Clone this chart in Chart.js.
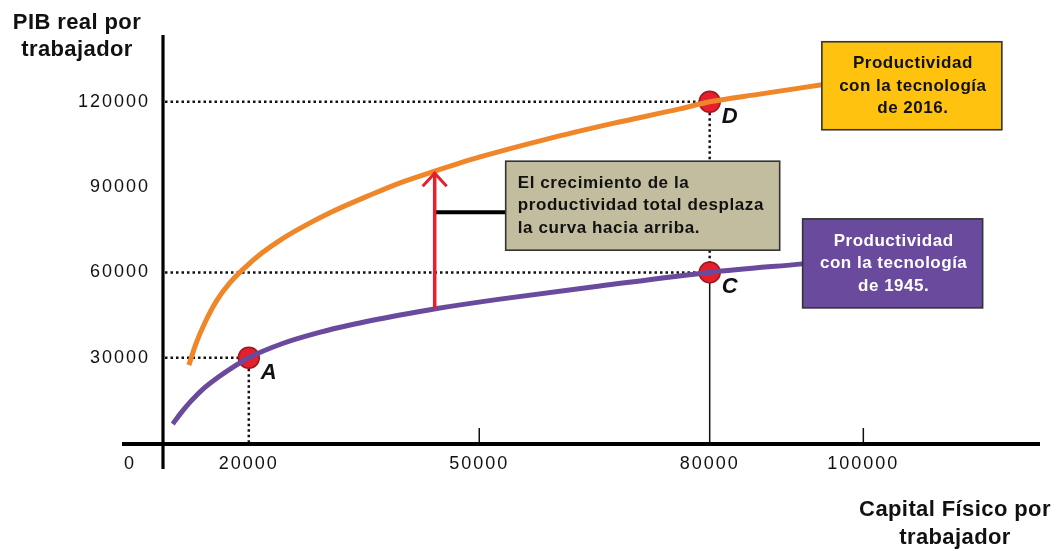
<!DOCTYPE html>
<html>
<head>
<meta charset="utf-8">
<script src="https://cdn.jsdelivr.net/npm/chart.js@4.4.1/dist/chart.umd.min.js"></script>
<style>
  html, body { margin: 0; padding: 0; background: #ffffff; }
  #wrap { width: 1057px; height: 551px; position: relative; }
</style>
</head>
<body>
<div id="wrap"><canvas id="chart"></canvas></div>
<script>
// Capital per worker (x) and real GDP per worker (y)
const xTickValues = [20000, 50000, 80000, 100000];
const yTickValues = [30000, 60000, 90000, 120000];

// Production function with 2016 technology
const tech2016K = [12200, 13100, 14300, 15800, 17500, 19500, 21700, 24000, 26600, 30500, 35800, 39700, 44200, 50100, 58800, 67400, 76100, 80000, 86500, 94600];
const tech2016Y = [27400, 34800, 42400, 50000, 56200, 61700, 66800, 71200, 75400, 80900, 87200, 91500, 95600, 100600, 106900, 112400, 117500, 120000, 122700, 126000];

// Production function with 1945 technology
const tech1945K = [10100, 11200, 12500, 14000, 16000, 17900, 20000, 24400, 29200, 33200, 39700, 44500, 52700, 65700, 80000, 92100];
const tech1945Y = [6700, 10700, 14800, 18900, 23100, 26600, 30000, 35000, 38900, 41500, 45000, 47300, 50600, 55200, 60000, 63000];

// Marked points
const pointNames = ['A', 'C', 'D'];
const pointK = [20000, 80000, 80000];
const pointY = [30000, 60000, 120000];

// Upward shift arrow between the two curves
const shiftK = 44200;
const shiftFrom = 47300;
const shiftTo = 95600;

// Text
const yTitle = ['PIB real por', 'trabajador'];
const xTitle = ['Capital Físico por', 'trabajador'];
const label2016 = ['Productividad', 'con la tecnología', 'de 2016.'];
const label1945 = ['Productividad', 'con la tecnología', 'de 1945.'];
const shiftNote = ['El crecimiento de la', 'productividad total desplaza', 'la curva hacia arriba.'];

const X_MIN = 8700, X_MAX = 123000, Y_MAX = 143500;
const ORANGE = '#ef8629';
const PURPLE = '#6a4a9c';
const RED = '#e51f2b';
const BASE_FONT = '"Liberation Sans", Arial, sans-serif';

function toXY(xs, ys) { return xs.map((v, i) => ({ x: v, y: ys[i] })); }

function dotted(ctx, x1, y1, x2, y2) {
  ctx.save();
  ctx.strokeStyle = '#111';
  ctx.lineWidth = 2.5;
  ctx.setLineDash([2.5, 3]);
  ctx.beginPath(); ctx.moveTo(x1, y1); ctx.lineTo(x2, y2); ctx.stroke();
  ctx.restore();
}

function textLines(ctx, lines, x, yFirst, lh, align, color, font, spacing) {
  ctx.save();
  ctx.fillStyle = color;
  ctx.font = font;
  ctx.letterSpacing = spacing;
  ctx.textAlign = align;
  ctx.textBaseline = 'middle';
  lines.forEach((t, i) => ctx.fillText(t, x, yFirst + i * lh));
  ctx.restore();
}

function box(ctx, x, y, w, h, fill) {
  ctx.save();
  ctx.fillStyle = fill;
  ctx.fillRect(x, y, w, h);
  ctx.strokeStyle = '#333';
  ctx.lineWidth = 1.6;
  ctx.strokeRect(x, y, w, h);
  ctx.restore();
}

const extras = {
  id: 'extras',
  beforeDraw(chart) {
    // slightly open digit spacing for the tick labels
    chart.ctx.letterSpacing = '2px';
  },
  beforeDatasetsDraw(chart) {
    const { ctx, scales: { x, y } } = chart;
    ctx.save();
    ctx.letterSpacing = '0px';
    const ax = x.getPixelForValue(X_MIN) + 1;
    const ay = y.getPixelForValue(0) + 1;

    // guide lines from the axes to each marked point
    pointK.forEach((k, i) => {
      dotted(ctx, ax + 2, y.getPixelForValue(pointY[i]), x.getPixelForValue(k), y.getPixelForValue(pointY[i]));
    });
    const pA = 0, pC = 1, pD = 2;
    dotted(ctx, x.getPixelForValue(pointK[pA]), y.getPixelForValue(pointY[pA]), x.getPixelForValue(pointK[pA]), ay - 2);
    dotted(ctx, x.getPixelForValue(pointK[pD]), y.getPixelForValue(pointY[pD]), x.getPixelForValue(pointK[pD]), y.getPixelForValue(pointY[pC]));
    ctx.strokeStyle = '#111';
    ctx.lineWidth = 1.5;
    ctx.beginPath();
    ctx.moveTo(x.getPixelForValue(pointK[pC]), y.getPixelForValue(pointY[pC]));
    ctx.lineTo(x.getPixelForValue(pointK[pC]), ay);
    ctx.stroke();

    // small tick marks on the horizontal axis
    [50000, 100000].forEach(v => {
      const px = x.getPixelForValue(v);
      ctx.beginPath(); ctx.moveTo(px, ay - 16); ctx.lineTo(px, ay); ctx.stroke();
    });

    // axes
    ctx.strokeStyle = '#000';
    ctx.lineWidth = 3.2;
    ctx.beginPath(); ctx.moveTo(ax, y.getPixelForValue(Y_MAX)); ctx.lineTo(ax, ay + 25); ctx.stroke();
    ctx.lineWidth = 4;
    ctx.beginPath(); ctx.moveTo(ax - 41, ay); ctx.lineTo(x.getPixelForValue(X_MAX), ay); ctx.stroke();
    ctx.restore();
  },
  afterDatasetsDraw(chart) {
    const { ctx, scales: { x, y } } = chart;
    ctx.save();
    const sx = x.getPixelForValue(shiftK);
    const sy1 = y.getPixelForValue(shiftFrom);
    const sy2 = y.getPixelForValue(shiftTo);

    // connector from the arrow to the note
    const noteLeft = sx + 71, noteTop = sy2 - 10, noteW = 274, noteH = 89;
    const cy = noteTop + 51;
    ctx.strokeStyle = '#000';
    ctx.lineWidth = 4;
    ctx.beginPath(); ctx.moveTo(sx, cy); ctx.lineTo(noteLeft, cy); ctx.stroke();

    // red arrow
    ctx.strokeStyle = RED;
    ctx.lineWidth = 3.5;
    ctx.beginPath(); ctx.moveTo(sx, sy1); ctx.lineTo(sx, sy2 + 1); ctx.stroke();
    ctx.lineWidth = 3;
    ctx.lineJoin = 'miter';
    ctx.beginPath(); ctx.moveTo(sx - 12, sy2 + 15); ctx.lineTo(sx, sy2 + 2); ctx.lineTo(sx + 12, sy2 + 15); ctx.stroke();

    // note box
    box(ctx, noteLeft, noteTop, noteW, noteH, '#c2bd9e');
    textLines(ctx, shiftNote, noteLeft + 12, noteTop + 22, 22.5, 'left', '#111', 'bold 17px ' + BASE_FONT, '0.6px');

    // curve labels, attached to the curve ends
    const oEndX = x.getPixelForValue(tech2016K[tech2016K.length - 1]);
    const oEndY = y.getPixelForValue(tech2016Y[tech2016Y.length - 1]);
    box(ctx, oEndX, oEndY - 43, 180, 88, '#fec20f');
    textLines(ctx, label2016, oEndX + 91, oEndY - 21, 22.5, 'center', '#111', 'bold 17px ' + BASE_FONT, '0.5px');

    const pEndX = x.getPixelForValue(tech1945K[tech1945K.length - 1]);
    const pEndY = y.getPixelForValue(tech1945Y[tech1945Y.length - 1]);
    box(ctx, pEndX, pEndY - 45, 180, 89, PURPLE);
    textLines(ctx, label1945, pEndX + 91, pEndY - 23, 22.5, 'center', '#ffffff', 'bold 17px ' + BASE_FONT, '0.5px');

    // point names
    pointNames.forEach((n, i) => {
      textLines(ctx, [n], x.getPixelForValue(pointK[i]) + 20, y.getPixelForValue(pointY[i]) + 15, 0, 'center', '#111', 'italic bold 22px ' + BASE_FONT, '0px');
    });

    // axis titles and origin
    const ax = x.getPixelForValue(X_MIN) + 1;
    const ay = y.getPixelForValue(0) + 1;
    textLines(ctx, yTitle, 77, 23, 27, 'center', '#111', 'bold 22px ' + BASE_FONT, '0.4px');
    textLines(ctx, xTitle, 955, 510, 28, 'center', '#111', 'bold 22px ' + BASE_FONT, '0.4px');
    textLines(ctx, ['0'], ax - 34, ay + 20, 0, 'center', '#111', '18px ' + BASE_FONT, '0px');
    ctx.restore();
  }
};

new Chart(document.getElementById('chart'), {
  type: 'scatter',
  data: {
    datasets: [
      {
        label: 'Tecnología de 2016',
        data: toXY(tech2016K, tech2016Y),
        showLine: true,
        borderColor: ORANGE,
        borderWidth: 5,
        pointRadius: 0,
        cubicInterpolationMode: 'monotone',
        borderCapStyle: 'butt',
        order: 0
      },
      {
        label: 'Tecnología de 1945',
        data: toXY(tech1945K, tech1945Y),
        showLine: true,
        borderColor: PURPLE,
        borderWidth: 5,
        pointRadius: 0,
        cubicInterpolationMode: 'monotone',
        borderCapStyle: 'butt',
        order: 1
      },
      {
        label: 'Puntos',
        data: toXY(pointK, pointY),
        showLine: false,
        pointRadius: 10.5,
        pointBackgroundColor: RED,
        pointBorderColor: '#9a1a20',
        pointBorderWidth: 1.5,
        order: 5
      }
    ]
  },
  options: {
    responsive: true,
    maintainAspectRatio: false,
    animation: false,
    events: [],
    layout: { padding: { top: 35, right: 17, bottom: 0, left: 0 } },
    plugins: { legend: { display: false }, tooltip: { enabled: false }, title: { display: false } },
    scales: {
      x: {
        type: 'linear',
        min: X_MIN,
        max: X_MAX,
        grid: { display: false, drawTicks: false },
        border: { display: false },
        afterBuildTicks: s => { s.ticks = xTickValues.map(v => ({ value: v })); },
        afterFit: s => { s.height = 108; },
        ticks: {
          padding: 10,
          color: '#111',
          font: { family: BASE_FONT, size: 18 },
          maxRotation: 0,
          callback: v => String(v)
        }
      },
      y: {
        type: 'linear',
        min: 0,
        max: Y_MAX,
        grid: { display: false, drawTicks: false },
        border: { display: false },
        afterBuildTicks: s => { s.ticks = yTickValues.map(v => ({ value: v })); },
        afterFit: s => { s.width = 162; },
        ticks: {
          padding: 12,
          color: '#111',
          font: { family: BASE_FONT, size: 18 },
          callback: v => String(v)
        }
      }
    }
  },
  plugins: [extras]
});
</script>
</body>
</html>
